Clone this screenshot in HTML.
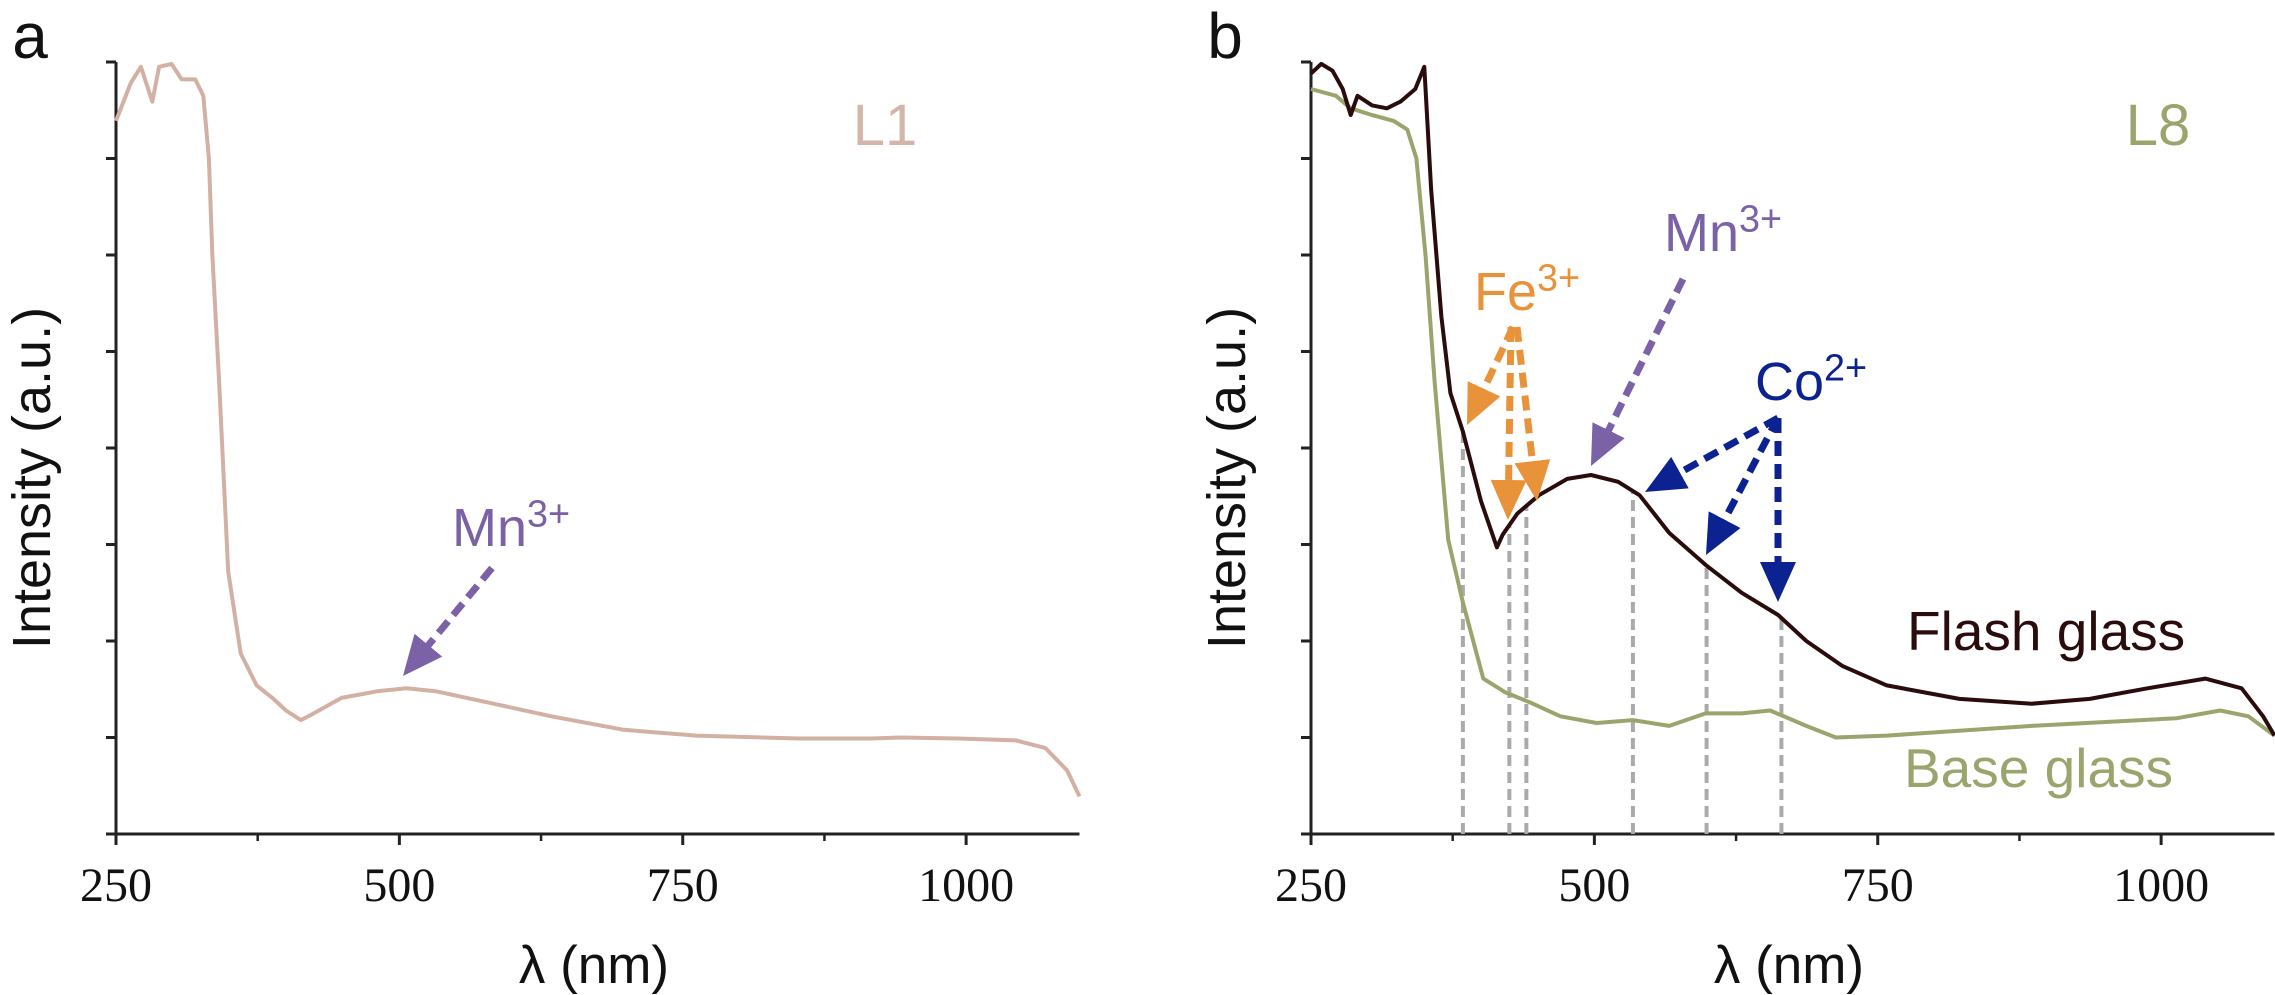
<!DOCTYPE html>
<html><head><meta charset="utf-8"><style>
html,body{margin:0;padding:0;background:#fff;}
svg{display:block;}
text{font-family:"Liberation Sans",sans-serif;}
.tick{font-family:"Liberation Serif",serif;font-size:48px;fill:#111;}
</style></head><body>
<svg id="fig" width="2275" height="995" viewBox="0 0 2275 995" xmlns="http://www.w3.org/2000/svg">
<defs>
<marker id="hPurple" markerWidth="40" markerHeight="36" refX="20" refY="18" orient="auto" markerUnits="userSpaceOnUse"><path d="M0,0 L40,18 L0,36 Z" fill="#7b62a6"/></marker>
<marker id="hOrange" markerWidth="40" markerHeight="36" refX="20" refY="18" orient="auto" markerUnits="userSpaceOnUse"><path d="M0,0 L40,18 L0,36 Z" fill="#e8923a"/></marker>
<marker id="hNavy" markerWidth="40" markerHeight="36" refX="20" refY="18" orient="auto" markerUnits="userSpaceOnUse"><path d="M0,0 L40,18 L0,36 Z" fill="#0b2290"/></marker>
</defs>
<g id="panelA"></g>
<g id="panelB"></g>
</svg>
<script>
const xTickValues = [250, 500, 750, 1000];
const xMinorTicks = [375, 625, 875];
const yTickCount = 8;
const l1Lambda = [250,263,272,282,288,299,308,320,327,332,335,341,349,360,374,388,400,413,423,449,481,506,532,583,634,698,762,852,916,942,993,1044,1070,1089,1100];
const l1Value  = [7.39,7.78,7.95,7.59,7.95,7.98,7.82,7.82,7.65,7.00,6.01,4.69,2.72,1.87,1.54,1.41,1.28,1.18,1.24,1.41,1.48,1.51,1.48,1.35,1.22,1.08,1.02,0.99,0.99,1.00,0.99,0.97,0.89,0.66,0.39];
const flashLambda = [250,259,269,278,285,291,304,317,329,342,350,356,365,373,384,400,414,419,432,451,476,497,521,540,566,598,630,662,687,719,758,822,886,937,988,1039,1071,1090,1100];
const flashValue  = [7.88,7.98,7.91,7.72,7.45,7.65,7.55,7.52,7.59,7.72,7.95,6.67,5.36,4.57,4.17,3.45,2.97,3.10,3.32,3.51,3.68,3.72,3.65,3.51,3.12,2.79,2.50,2.27,2.00,1.74,1.54,1.40,1.35,1.40,1.51,1.61,1.51,1.22,1.02];
const baseLambda = [250,272,285,304,323,335,343,351,359,371,384,402,421,444,470,502,534,566,598,630,655,687,713,758,886,1014,1052,1077,1100];
const baseValue  = [7.72,7.65,7.52,7.45,7.39,7.30,7.00,6.00,4.69,3.05,2.40,1.61,1.47,1.36,1.22,1.15,1.18,1.12,1.25,1.25,1.28,1.12,1.00,1.02,1.12,1.20,1.28,1.22,1.02];
const markerLambda = [384,425,440,534,599,665];

const NS = "http://www.w3.org/2000/svg";
const TOP = 62, BOT = 834, YMAX = 8;
function mk(parent, tag, attrs){const e=document.createElementNS(NS,tag);for(const k in attrs)e.setAttribute(k,attrs[k]);parent.appendChild(e);return e;}
function makeX(x0){return l => x0 + (l-250)*1.1335;}
function yS(v){return BOT - v*(BOT-TOP)/YMAX;}
function interp(ls, vs, l){for(let i=0;i<ls.length-1;i++){if(l>=ls[i]&&l<=ls[i+1]){const t=(l-ls[i])/(ls[i+1]-ls[i]);return vs[i]+t*(vs[i+1]-vs[i]);}}return vs[vs.length-1];}

function axes(g, x0){
  const xS = makeX(x0);
  const ax = mk(g,'path',{d:`M${x0},${TOP} V${BOT} H${xS(1100)}`,stroke:'#222','stroke-width':3,fill:'none'});
  
  
  for(let i=0;i<=yTickCount;i++){
    const t = mk(g,'line',{x1:x0-10,x2:x0,y1:yS(i),y2:yS(i),stroke:'#222','stroke-width':3});
    
    
  }
  xTickValues.forEach(v=>{
    const t = mk(g,'line',{x1:xS(v),x2:xS(v),y1:BOT,y2:BOT+11,stroke:'#222','stroke-width':3});
    
    
    const lb = mk(g,'text',{x:xS(v),y:901,'text-anchor':'middle',class:'tick'});
    lb.textContent = v;
    
    
  });
  xMinorTicks.forEach(v=>{
    const t = mk(g,'line',{x1:xS(v),x2:xS(v),y1:BOT,y2:BOT+7,stroke:'#222','stroke-width':2.5});
    
    
  });
  const xt = mk(g,'text',{x:x0+478,y:983,'text-anchor':'middle','font-size':53,fill:'#111'});
  xt.textContent='λ (nm)';
  
  
  const yt = mk(g,'text',{x:0,y:0,'text-anchor':'middle','font-size':54,fill:'#111',transform:`translate(${x0-66},478) rotate(-90)`});
  yt.textContent='Intensity (a.u.)';
  
  
  return xS;
}
function line(g, xS, ls, vs, color, w, name){
  let d=''; ls.forEach((l,i)=>{d+=(i?'L':'M')+xS(l).toFixed(1)+','+yS(vs[i]).toFixed(1);});
  const p = mk(g,'path',{d:d,stroke:color,'stroke-width':w,fill:'none','stroke-linejoin':'round'});
  
  
}
function label(g, x, y, main, sup, color, size, name, anchor){
  const t = mk(g,'text',{x:x,y:y,'font-size':size,fill:color,'text-anchor':anchor||'start'});
  
  
  const a = mk(t,'tspan',{}); a.textContent = main;
  if(sup){const b = mk(t,'tspan',{'font-size':size*0.7,dy:-size*0.36}); b.textContent = sup;}
  return t;
}
function arrow(g, x1,y1,x2,y2,color,marker,name){
  const dx=x2-x1, dy=y2-y1, L=Math.hypot(dx,dy);
  const ex=x2-dx/L*20, ey=y2-dy/L*20;
  const a = mk(g,'line',{x1:x1,y1:y1,x2:ex.toFixed(1),y2:ey.toFixed(1),stroke:color,'stroke-width':7,'stroke-dasharray':'15,8','marker-end':`url(#${marker})`});
  
  
}

// Panel A
const gA = document.getElementById('panelA');
const xA = axes(gA, 116);
line(gA, xA, l1Lambda, l1Value, '#d2b1a4', 4, 'l1-spectrum');
label(gA, 30, 58, 'a', null, '#111', 64, 'panel-label-a', 'middle');
label(gA, 885, 145, 'L1', null, '#d4b5a9', 58, 'sample-label-l1', 'middle');
label(gA, 452, 546, 'Mn', '3+', '#7b62a6', 54, 'mn3-label-a');
arrow(gA, 492, 568, 403, 676, '#7b62a6', 'hPurple', 'mn3-arrow-a');

// Panel B
const gB = document.getElementById('panelB');
const xB = axes(gB, 1311);
markerLambda.forEach(l=>{
  const v = mk(gB,'line',{x1:xB(l),x2:xB(l),y1:BOT,y2:yS(interp(flashLambda,flashValue,l)),stroke:'#aaa','stroke-width':4,'stroke-dasharray':'11,6'});
  
  
});
line(gB, xB, baseLambda, baseValue, '#9aa56e', 4, 'base-glass-spectrum');
line(gB, xB, flashLambda, flashValue, '#2a0c0c', 4, 'flash-glass-spectrum');
label(gB, 1225, 58, 'b', null, '#111', 64, 'panel-label-b', 'middle');
label(gB, 2158, 145, 'L8', null, '#9aa56e', 58, 'sample-label-l8', 'middle');
label(gB, 1474, 310, 'Fe', '3+', '#e8923a', 54, 'fe3-label');
arrow(gB, 1513, 327, 1467, 425, '#e8923a', 'hOrange', 'fe3-arrow-1');
arrow(gB, 1511, 327, 1508, 520, '#e8923a', 'hOrange', 'fe3-arrow-2');
arrow(gB, 1517, 327, 1537, 501, '#e8923a', 'hOrange', 'fe3-arrow-3');
label(gB, 1664, 251, 'Mn', '3+', '#7b62a6', 54, 'mn3-label-b');
arrow(gB, 1683, 279, 1591, 466, '#7b62a6', 'hPurple', 'mn3-arrow-b');
label(gB, 1755, 400, 'Co', '2+', '#0b2290', 54, 'co2-label');
arrow(gB, 1778, 418, 1645, 492, '#0b2290', 'hNavy', 'co2-arrow-1');
arrow(gB, 1778, 418, 1706, 555, '#0b2290', 'hNavy', 'co2-arrow-2');
arrow(gB, 1778, 418, 1778, 602, '#0b2290', 'hNavy', 'co2-arrow-3');
label(gB, 1907, 650, 'Flash glass', null, '#2a0c0c', 55, 'flash-glass-label');
label(gB, 1904, 787, 'Base glass', null, '#9aa56e', 55, 'base-glass-label');
</script>
</body></html>
